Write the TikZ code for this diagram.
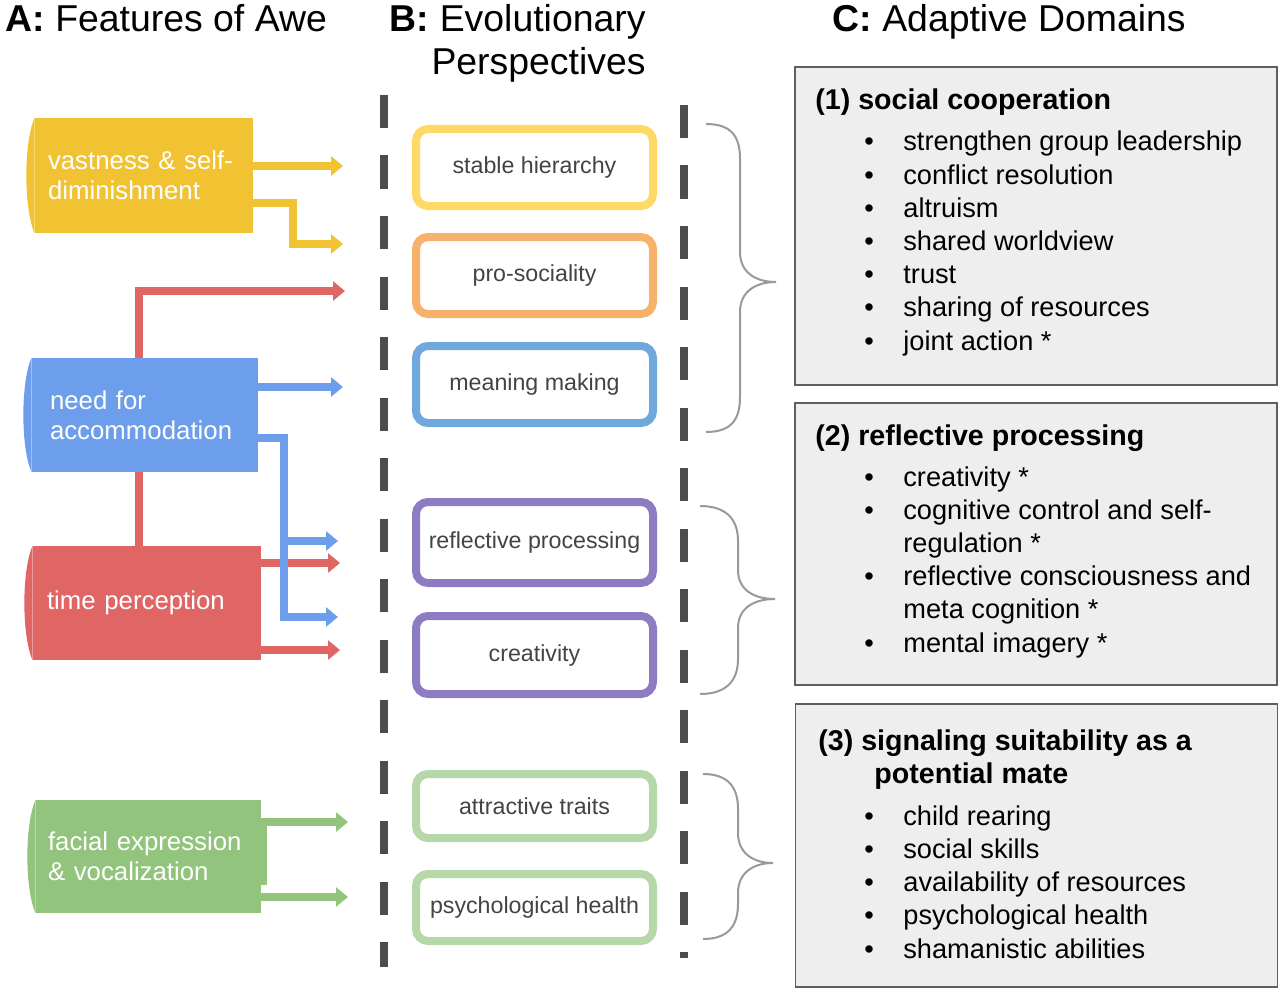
\documentclass[tikz,border=0pt]{standalone}
\usepackage{fontspec}
\setmainfont{Liberation Sans}
\usepackage{xcolor}
\usepackage{tikz}
\usetikzlibrary{arrows.meta,positioning,calc}
\definecolor{aweyellow}{HTML}{F1C232}
\definecolor{awered}{HTML}{E06666}
\definecolor{aweblue}{HTML}{6D9EEB}
\definecolor{awegreen}{HTML}{93C47D}
\definecolor{lyellow}{HTML}{FFD966}
\definecolor{lorange}{HTML}{F6B26B}
\definecolor{lblue}{HTML}{6FA8DC}
\definecolor{lpurple}{HTML}{8E7CC3}
\definecolor{lgreen}{HTML}{B6D7A8}
\definecolor{sepgray}{HTML}{4D4D4D}
\definecolor{txtgray}{HTML}{434343}
\definecolor{bracegray}{HTML}{999999}
\definecolor{boxgray}{HTML}{EEEEEE}
\definecolor{boxline}{HTML}{5F5F5F}
\newcommand{\dpt}{\makebox[19.5pt][l]{\textbullet}}
\tikzset{
  coltitle/.style={anchor=base west,inner sep=0pt,font=\fontsize{18.7}{21.5}\selectfont},
  feat/.style={rectangle,inner ysep=0pt,align=left,text=white,font=\fontsize{12.9}{15}\selectfont},
  farrow/.style={line width=4pt,-{Triangle[width=9.5pt,length=6pt]},line join=miter},
  persp/.style={rectangle,rounded corners=6pt,draw,line width=4pt,fill=white,inner sep=0pt,
    minimum width=118.5pt,text=txtgray,font=\fontsize{11.6}{14}\selectfont},
  sepline/.style={sepgray,line width=4pt,dash pattern=on 16.5pt off 13.75pt},
  brc/.style={bracegray,line width=1pt},
  dombox/.style={rectangle,draw=boxline,line width=0.8pt,fill=boxgray,minimum width=241pt},
  domhead/.style={anchor=base west,inner sep=0pt,align=left,font=\fontsize{14.3}{16.5}\selectfont\bfseries},
  domlist/.style={anchor=base west,inner sep=0pt,align=left,font=\fontsize{13.6}{16.6}\selectfont},
}
\begin{document}
\begin{tikzpicture}[x=0.5pt,y=-0.5pt]
  \useasboundingbox (0,0) rectangle (1280,990);
  % column titles (multi-line nodes sit on their last baseline)
  \node[coltitle] (ta) at (5,32) {\textbf{A:} Features of Awe};
  \node[coltitle,anchor=base east,align=right] (tb) at (646,75) {\textbf{B:} Evolutionary\\Perspectives};
  \node[coltitle] (tc) at (832,32) {\textbf{C:} Adaptive Domains};

  % A: features
  \node[feat,fill=aweyellow,minimum height=57.5pt,text width=96pt,inner xsep=6.5pt] (vast) at (144,175.5)
    {vastness \& self-\\diminishment};
  \fill[aweyellow] (vast.north west) .. controls +(-11,25) and +(-11,-25) .. (vast.south west) -- cycle;
  \node[feat,fill=awered,minimum height=57pt,text width=100pt,inner xsep=7pt] (timep) at (147,603)
    {time perception};
  \fill[awered] (timep.north west) .. controls +(-11,25) and +(-11,-25) .. (timep.south west) -- cycle;
  \node[feat,fill=awegreen,minimum height=56.5pt,text width=100.5pt,inner xsep=6pt] (facial) at (148.5,856.5)
    {facial expression\\\& vocalization};
  \fill[awegreen] (facial.north west) .. controls +(-11,25) and +(-11,-25) .. (facial.south west) -- cycle;
  \fill[awegreen] (261,818) rectangle (267,885);

  % arrow ends
  \coordinate (yA) at (343,166);
  \coordinate (yK) at (293,203);
  \coordinate (yB) at (343,244);
  \coordinate (rK) at (139,291);
  \coordinate (rA) at (345,291);
  \coordinate (rB) at (340,563);
  \coordinate (rC) at (340,650);
  \coordinate (bA) at (343,387);
  \coordinate (bK) at (284,438);
  \coordinate (bB) at (338,541);
  \coordinate (bC) at (338,617);
  \coordinate (gA) at (348,822);
  \coordinate (gB) at (348,897);

  \draw[farrow,aweyellow] (vast.east |- yA) -- (yA);
  \draw[farrow,aweyellow] (vast.east |- yK) -- (yK) |- (yB);
  % red runs behind the blue box
  \draw[farrow,awered] (timep.north -| rK) -- (rK) -- (rA);
  \draw[farrow,awered] (timep.east |- rB) -- (rB);
  \draw[farrow,awered] (timep.east |- rC) -- (rC);

  \node[feat,fill=aweblue,minimum height=57pt,text width=95pt,inner xsep=9pt] (accom) at (145,415)
    {need for\\accommodation};
  \fill[aweblue] (accom.north west) .. controls +(-11,25) and +(-11,-25) .. (accom.south west) -- cycle;
  \draw[farrow,aweblue] (accom.east |- bA) -- (bA);
  \draw[farrow,aweblue] (accom.east |- bK) -- (bK) |- (bC);
  \draw[farrow,aweblue] (bK |- bB) -- (bB);

  \draw[farrow,awegreen] (facial.east |- gA) -- (gA);
  \draw[farrow,awegreen] (facial.east |- gB) -- (gB);

  % B: perspectives
  \draw[sepline] (384,95) -- (384,967);
  \draw[sepline] (684,105) -- (684,958);
  \node[persp,draw=lyellow,minimum height=38.5pt] (hier) at (534.5,167.5) {stable hierarchy};
  \node[persp,draw=lorange,minimum height=38.5pt] (pros) at (534.5,275.5) {pro-sociality};
  \node[persp,draw=lblue,minimum height=38.5pt] (mean) at (534.5,384.5) {meaning making};
  \node[persp,draw=lpurple,minimum height=40.5pt] (refl) at (534.5,542.5) {reflective processing};
  \node[persp,draw=lpurple,minimum height=39pt] (crea) at (534.5,655) {creativity};
  \node[persp,draw=lgreen,minimum height=32pt] (attr) at (534.5,806) {attractive traits};
  \node[persp,draw=lgreen,minimum height=33.5pt] (psyh) at (534.5,907.5) {psychological health};

  % braces
  \draw[brc] (706,124) .. controls (731,124) and (740,136) .. (740,159) -- (740,252)
    .. controls (740,272) and (755,282) .. (776,282) .. controls (755,282) and (740,292) .. (740,312)
    -- (740,397) .. controls (740,420) and (731,432) .. (706,432);
  \draw[brc] (700,506) .. controls (725,506) and (738,518) .. (738,541) -- (738,570)
    .. controls (738,590) and (754,599) .. (775,599) .. controls (754,599) and (738,608) .. (738,628)
    -- (738,659) .. controls (738,682) and (725,694) .. (700,694);
  \draw[brc] (703,774) .. controls (727,774) and (738,786) .. (738,809) -- (738,833)
    .. controls (738,853) and (753,863) .. (773,863) .. controls (753,863) and (738,873) .. (738,893)
    -- (738,904) .. controls (738,927) and (727,939) .. (703,939);

  % C: adaptive domains
  \node[dombox,minimum height=159pt] (soc) at (1036,226) {};
  \node[domhead] (soch) at (815,110) {(1) social cooperation};
  \node[domlist] (socl) at (864,350) {\dpt strengthen group leadership\\\dpt conflict resolution\\
    \dpt altruism\\\dpt shared worldview\\\dpt trust\\\dpt sharing of resources\\\dpt joint action *};

  \node[dombox,minimum height=141pt] (ref) at (1036,544) {};
  \node[domhead] (refh) at (815,445) {(2) reflective processing};
  \node[domlist] (refll) at (864,652) {\dpt creativity *\\\dpt cognitive control and self-\\
    \hspace*{19.5pt}regulation *\\\dpt reflective consciousness and\\\hspace*{19.5pt}meta cognition *\\
    \dpt mental imagery *};

  \node[dombox,minimum height=141.5pt] (mate) at (1036.5,845.5) {};
  \node[domhead] (mateh) at (818,783) {(3) signaling suitability as a\\\hspace*{28pt}potential mate};
  \node[domlist] (matel) at (864,958) {\dpt child rearing\\\dpt social skills\\
    \dpt availability of resources\\\dpt psychological health\\\dpt shamanistic abilities};
\end{tikzpicture}
\end{document}
